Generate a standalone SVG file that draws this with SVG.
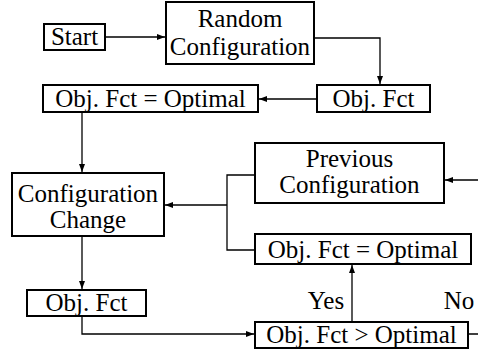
<svg xmlns="http://www.w3.org/2000/svg" width="478" height="357" viewBox="0 0 478 357">
<defs>
<marker id="ah" markerWidth="8" markerHeight="6" refX="8" refY="3" orient="auto" markerUnits="userSpaceOnUse">
<path d="M0,0 L8,3 L0,6 Z" fill="#000"/>
</marker>
<style>
rect{fill:#fff;stroke:#000;stroke-width:2}
text{font-family:"Liberation Serif","Times New Roman",serif;font-size:25px;fill:#000;text-anchor:middle}
.c path{fill:none;stroke:#000;stroke-width:1.3}
.a{marker-end:url(#ah)}
</style>
</defs>
<rect x="0" y="0" width="478" height="357" style="fill:#fff;stroke:none"/>
<g class="c" id="connectors">
<path class="a" d="M105,37 H165"/>
<path class="a" d="M314,38 H380 V84"/>
<path class="a" d="M317,99 H259"/>
<path class="a" d="M82,113 V172"/>
<path d="M255,175 H227 V250 H255"/>
<path class="a" d="M227,205 H165"/>
<path class="a" d="M82,237 V289"/>
<path class="a" d="M82,316 V334 H254"/>
<path class="a" d="M352,322 V265"/>
<path class="a" d="M468,334 H480 V180 H445"/>
</g>
<g id="start"><rect x="44" y="24" width="61" height="26"/><text x="74.5" y="45">Start</text></g>
<g id="random"><rect x="166" y="2" width="148" height="62"/><text x="240" y="27">Random</text><text x="240" y="55">Configuration</text></g>
<g id="objfct1"><rect x="317" y="85" width="113" height="27"/><text x="373.5" y="107">Obj. Fct</text></g>
<g id="objopt1"><rect x="43" y="85" width="215" height="27"/><text x="150.5" y="107">Obj. Fct = Optimal</text></g>
<g id="confchange"><rect x="12" y="173" width="152" height="63"/><text x="88" y="202">Configuration</text><text x="88" y="228">Change</text></g>
<g id="prevconf"><rect x="255" y="143" width="189" height="60"/><text x="349.5" y="167">Previous</text><text x="349.5" y="193">Configuration</text></g>
<g id="objopt2"><rect x="255" y="234" width="216" height="30"/><text x="363" y="258">Obj. Fct = Optimal</text></g>
<g id="objfct2"><rect x="27" y="290" width="119" height="26"/><text x="86.5" y="311">Obj. Fct</text></g>
<g id="objgt"><rect x="255" y="322" width="213" height="26"/><text x="361.5" y="343">Obj. Fct &gt; Optimal</text></g>
<g id="labels"><text x="326" y="309">Yes</text><text x="459" y="309">No</text></g>
</svg>
